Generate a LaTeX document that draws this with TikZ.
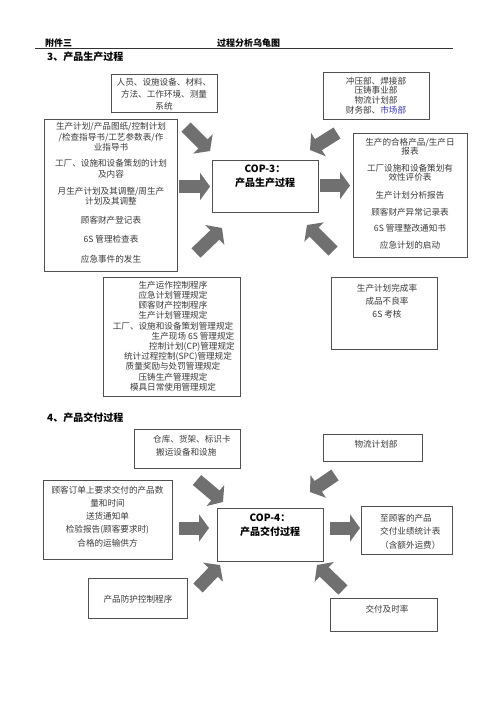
\documentclass[tikz,border=0pt]{standalone}
\usepackage{fontspec}
\setmainfont{Noto Sans CJK SC}
\usetikzlibrary{arrows.meta}
\definecolor{bordergray}{HTML}{505050}
\definecolor{textgray}{HTML}{3A3A3A}
\definecolor{arrowgray}{HTML}{707070}
\definecolor{linkblue}{HTML}{3A3AB0}
\tikzset{
  box/.style={draw=bordergray, line width=0.9pt, inner sep=0pt, anchor=north west},
  txt/.style={inner sep=0pt, text=textgray, align=center},
  fat/.style={draw=arrowgray, line width=13pt, -{Triangle[length=10pt,width=27pt]}},
  hdr/.style={inner sep=0pt, font=\bfseries\fontsize{9}{11}\selectfont, anchor=west},
  sec/.style={inner sep=0pt, font=\bfseries\fontsize{10}{12}\selectfont, anchor=west},
  cop/.style={inner sep=0pt, font=\bfseries\fontsize{10}{14}\selectfont, align=center}
}
\begin{document}
\begin{tikzpicture}[x=1pt,y=-1pt]
\useasboundingbox[fill=white] (0,0) rectangle (500,708);
% header
\node[hdr] (hA) at (45,43) {附件三};
\node[hdr] (hB) at (217,43) {过程分析乌龟图};
\coordinate (hl1) at (35,48.5);
\coordinate (hl2) at (453,48.5);
\draw[line width=0.9pt, black!80] (hl1) -- (hl2);
\node[sec] (s3) at (47,56.5) {3、产品生产过程};

% ---- section 3 boxes ----
\node[box, minimum width=106pt, minimum height=38pt] (p3top) at (111,74) {};
\node[txt, font=\fontsize{8.6}{12}\selectfont] (p3topt) at (164,94) {人员、设施设备、材料、\\方法、工作环境、测量\\系统};

\node[box, minimum width=106pt, minimum height=47pt] (p3tr) at (323,72) {};
\node[txt, font=\fontsize{8.6}{9.8}\selectfont] (p3trt) at (376,95.5) {冲压部、焊接部\\压铸事业部\\物流计划部\\财务部、\textcolor{linkblue}{市场部}};

\node[box, minimum width=133pt, minimum height=152pt] (p3l) at (44,119) {};
\node[txt, font=\fontsize{8.6}{10.5}\selectfont] (p3lt) at (111,193) {生产计划/产品图纸/控制计划\\/检查指导书/工艺参数表/作\\业指导书\\[5.5pt]工厂、设施和设备策划的计划\\及内容\\[6.5pt]月生产计划及其调整/周生产\\计划及其调整\\[8.5pt]顾客财产登记表\\[8.5pt]6S 管理检查表\\[9pt]应急事件的发生};

\node[box, minimum width=106pt, minimum height=52pt] (p3c) at (212,160) {};
\node[cop] (p3ct) at (265,176.5) {COP-3：\\产品生产过程};

\node[box, minimum width=114pt, minimum height=124pt] (p3r) at (353,133) {};
\node[txt, font=\fontsize{8.6}{9.2}\selectfont] (p3rt) at (410,193.5) {生产的合格产品/生产日\\报表\\[8pt]工厂设施和设备策划有\\效性评价表\\[9pt]生产计划分析报告\\[7pt]顾客财产异常记录表\\[7.5pt]6S 管理整改通知书\\[7.5pt]应急计划的启动};

\node[box, minimum width=137pt, minimum height=119pt] (p3bl) at (103,277) {};
\node[txt, font=\fontsize{8.6}{10.2}\selectfont] (p3blt) at (173,336) {生产运作控制程序\\应急计划管理规定\\顾客财产控制程序\\生产计划管理规定\\工厂、设施和设备策划管理规定\\\hspace*{40pt}生产现场 6S 管理规定\\\hspace*{38pt}控制计划(CP)管理规定\\\hspace*{10pt}统计过程控制(SPC)管理规定\\质量奖励与处罚管理规定\\压铸生产管理规定\\模具日常使用管理规定};

\node[box, minimum width=106pt, minimum height=72pt] (p3br) at (331,277) {};
\node[txt, font=\fontsize{8.6}{13}\selectfont] (p3brt) at (387,301) {生产计划完成率\\成品不良率\\6S 考核};

% ---- section 3 arrows ----
\coordinate (a1s) at (186,127); \coordinate (a1e) at (210,151);
\coordinate (a2s) at (179,186.5); \coordinate (a2e) at (210,186.5);
\coordinate (a3s) at (196,253); \coordinate (a3e) at (222,228);
\coordinate (a4s) at (337,133); \coordinate (a4e) at (310,150);
\coordinate (a5s) at (320,185.5); \coordinate (a5e) at (350,185.5);
\coordinate (a6s) at (333,251); \coordinate (a6e) at (307,225);
\draw[fat] (a1s) -- (a1e);
\draw[fat] (a2s) -- (a2e);
\draw[fat] (a3s) -- (a3e);
\draw[fat] (a4s) -- (a4e);
\draw[fat] (a5s) -- (a5e);
\draw[fat] (a6s) -- (a6e);

% ---- section 4 ----
\node[sec] (s4) at (47,418) {4、产品交付过程};

\node[box, minimum width=106pt, minimum height=39pt] (p4top) at (134,429) {};
\node[txt, align=left, anchor=west, font=\fontsize{8.6}{13}\selectfont] (p4topt) at (153,445.5) {仓库、货架、标识卡\\\hspace*{3pt}搬运设备和设施};

\node[box, minimum width=99pt, minimum height=27pt] (p4tr) at (323,434) {};
\node[txt, font=\fontsize{8.6}{12}\selectfont] (p4trt) at (376,444) {物流计划部};

\node[box, minimum width=129pt, minimum height=79pt] (p4l) at (43,480) {};
\node[txt, font=\fontsize{8.6}{13.2}\selectfont] (p4lt) at (107.5,516.5) {顾客订单上要求交付的产品数\\量和时间\\送货通知单\\检验报告(顾客要求时)\\合格的运输供方};

\node[box, minimum width=106pt, minimum height=53pt] (p4c) at (217,508) {};
\node[cop] (p4ct) at (270,525.5) {COP-4：\\产品交付过程};

\node[box, minimum width=91pt, minimum height=48pt] (p4r) at (361,506) {};
\node[txt, align=left, anchor=west, font=\fontsize{8.6}{13.5}\selectfont] (p4rt) at (380,531.5) {至顾客的产品\\交付业绩统计表\\（含额外运费）};

\node[box, minimum width=99pt, minimum height=40pt] (p4bl) at (88,578) {};
\node[txt, font=\fontsize{8.6}{12}\selectfont] (p4blt) at (138,599) {产品防护控制程序};

\node[box, minimum width=107pt, minimum height=33pt] (p4br) at (330,598) {};
\node[txt, font=\fontsize{8.6}{12}\selectfont] (p4brt) at (387,609) {交付及时率};

% ---- section 4 arrows ----
\coordinate (b1s) at (197,480); \coordinate (b1e) at (223,502);
\coordinate (b2s) at (179,528); \coordinate (b2e) at (209,528);
\coordinate (b3s) at (335,475); \coordinate (b3e) at (310,492);
\coordinate (b4s) at (330,528); \coordinate (b4e) at (360,528);
\coordinate (b5s) at (198,588); \coordinate (b5e) at (220,565);
\coordinate (b6s) at (343,590); \coordinate (b6e) at (317,565);
\draw[fat] (b1s) -- (b1e);
\draw[fat] (b2s) -- (b2e);
\draw[fat] (b3s) -- (b3e);
\draw[fat] (b4s) -- (b4e);
\draw[fat] (b5s) -- (b5e);
\draw[fat] (b6s) -- (b6e);
\end{tikzpicture}
\end{document}
